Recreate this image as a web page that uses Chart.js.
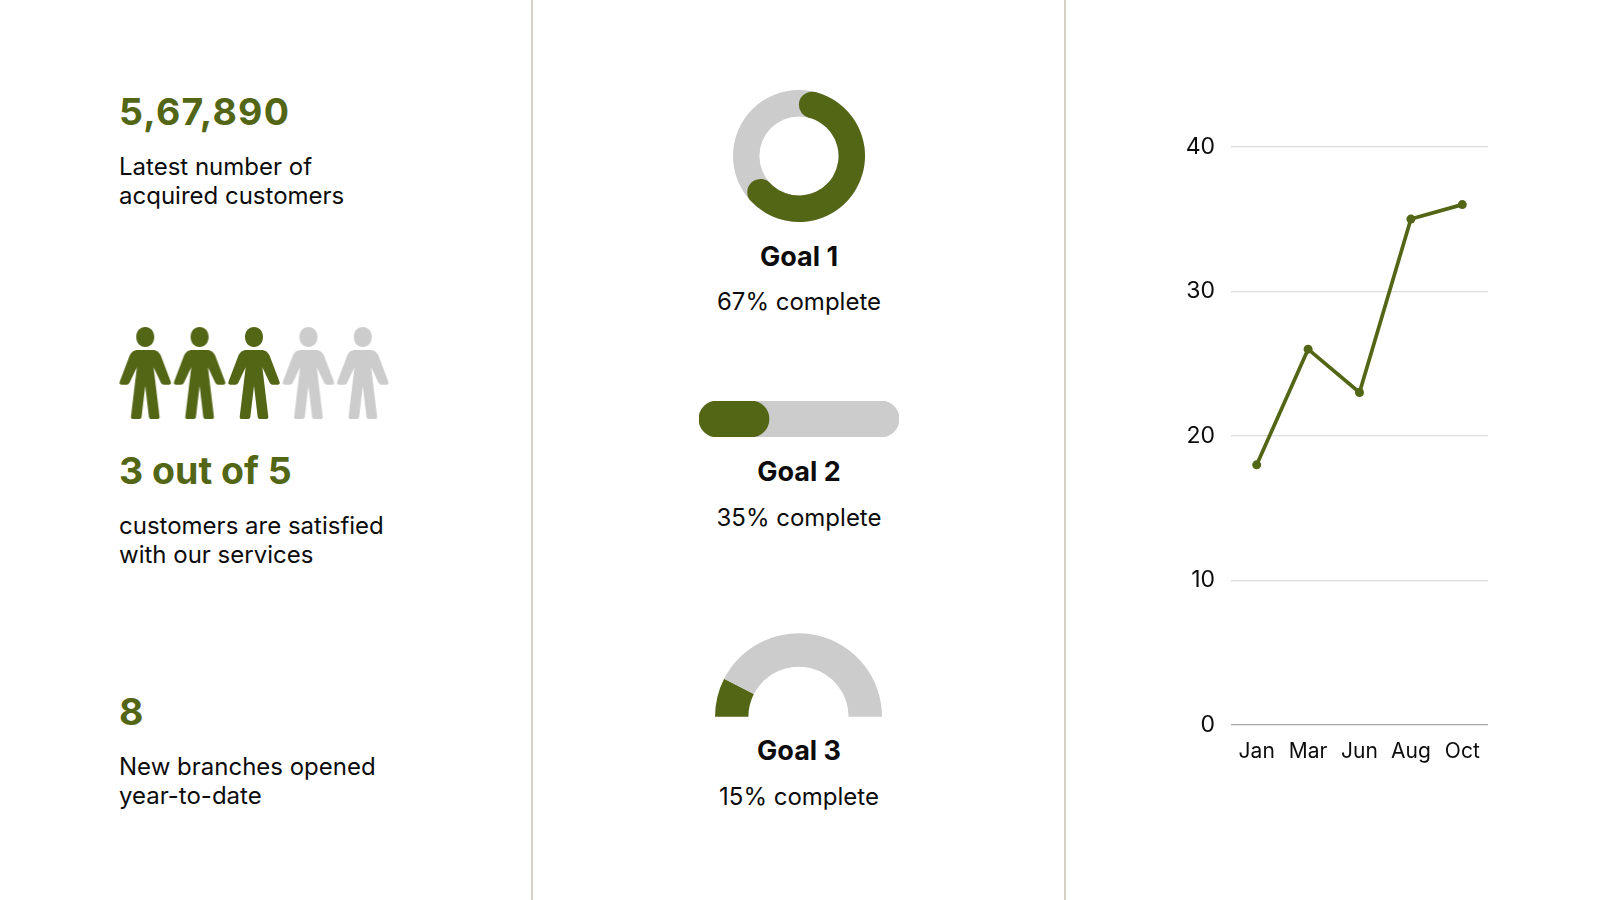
<!DOCTYPE html>
<html lang="en">

<head>
    <meta charset="UTF-8">
    <title>Customer Goals</title>
    <style>
        body {
            font-family: Inter, Arial, sans-serif;
            background-color: #fff;
            color: #0c0c0c;
            margin: 0;
            width: 1600px;
            height: 900px;
            overflow: hidden;
            position: relative;
        }

        .divider { position: absolute; top: 0; width: 2px; height: 900px; background: #d6d2c4; }

        .stat, .txt, .goal, .pct { position: absolute; white-space: nowrap; }
        .stat { left: 119px; font-size: 37.5px; font-weight: 700; line-height: 46px; color: #536616; }
        .txt { left: 119px; font-size: 24px; line-height: 29px; }
        .goal { left: 599px; width: 400px; text-align: center; font-size: 27px; font-weight: 700; line-height: 34px; }
        .pct { left: 599px; width: 400px; text-align: center; font-size: 24px; line-height: 30px; }

        canvas { position: absolute; }
    </style>
</head>

<body>
    <div class="divider" style="left:531px"></div>
    <div class="divider" style="left:1064px"></div>

    <div class="stat" style="top:89px;letter-spacing:1.2px">5,67,890</div>
    <div class="txt" style="top:152px">Latest number of<br>acquired customers</div>
    <canvas id="peopleChart" style="left:118px;top:327px"></canvas>
    <div class="stat" style="top:448px">3 out of 5</div>
    <div class="txt" style="top:511px">customers are satisfied<br>with our services</div>
    <div class="stat" style="top:689px">8</div>
    <div class="txt" style="top:752px">New branches opened<br>year-to-date</div>

    <canvas id="goal1Back" style="left:733px;top:90px"></canvas>
    <canvas id="goal1Chart" style="left:733px;top:90px"></canvas>
    <div class="goal" style="top:240px">Goal 1</div>
    <div class="pct" style="top:287px">67% complete</div>

    <canvas id="goal2Chart" style="left:699px;top:401px"></canvas>
    <div class="goal" style="top:455px">Goal 2</div>
    <div class="pct" style="top:503px">35% complete</div>

    <canvas id="goal3Chart" style="left:715px;top:633px"></canvas>
    <div class="goal" style="top:734px">Goal 3</div>
    <div class="pct" style="top:782px">15% complete</div>

    <canvas id="lineChart" style="left:1160px;top:117px"></canvas>

    <script src="https://cdn.jsdelivr.net/npm/chart.js"></script>
    <script>
        const GREEN = '#536616';
        const GREY = '#cccccc';

        const people = [1, 2, 3, 4, 5];
        const peopleSatisfied = [true, true, true, false, false];
        const goal1 = [67, 33];
        const goal2 = [35];
        const goal2Total = [100];
        const goal3 = [15, 85];
        const months = ['Jan', 'Mar', 'Jun', 'Aug', 'Oct'];
        const lineValues = [18, 26, 23, 35, 36];
        const yTicks = [0, 10, 20, 30, 40];

        Chart.defaults.animation = false;
        Chart.defaults.responsive = false;
        Chart.defaults.plugins.legend.display = false;
        Chart.defaults.plugins.tooltip.enabled = false;
        Chart.defaults.font.family = 'Inter, Arial, sans-serif';

        function sizeCanvas(id, w, h) {
            const c = document.getElementById(id);
            c.width = w;
            c.height = h;
            return c;
        }

        // person icon, used as point style of the pictogram
        const personPath = new Path2D('M136 82C120 82 109 95 109 112C109 129 120 142 136 142C152 142 163 129 163 112C163 95 152 82 136 82Z' +
            'M114 151C101 151 94 158 89 168L60 245C57 252 60 255 65 255L80 255C84 255 87 253 89 249L111 203L93 352C93 356 95 358 99 358L118 358C122 358 124 356 125 352L136 258L147 352C148 356 150 358 154 358L173 358C177 358 179 356 179 352L161 203L183 249C185 253 188 255 192 255L207 255C212 255 215 252 212 245L183 168C178 158 171 151 158 151Z');

        function personIcon(color) {
            const c = document.createElement('canvas');
            c.width = 54;
            c.height = 92;
            const ctx = c.getContext('2d');
            ctx.translate(27, -27.3);
            ctx.scale(1 / 3, 1 / 3);
            ctx.translate(-136, 0);
            ctx.fillStyle = color;
            ctx.fill(personPath);
            return c;
        }
        const iconOn = personIcon(GREEN);
        const iconOff = personIcon(GREY);

        new Chart(sizeCanvas('peopleChart', 272, 92), {
            type: 'scatter',
            data: {
                datasets: [{
                    data: people.map(p => ({ x: p, y: 1 })),
                    pointStyle: peopleSatisfied.map(s => s ? iconOn : iconOff),
                    clip: false
                }]
            },
            options: {
                layout: { padding: 0, autoPadding: false },
                scales: {
                    x: { display: false, min: 0.5, max: 5.5 },
                    y: { display: false, min: 0, max: 2 }
                }
            }
        });

        // goal 1: full grey ring with the rounded green arc on top
        new Chart(sizeCanvas('goal1Back', 132, 132), {
            type: 'doughnut',
            data: { datasets: [{ data: [goal1[0] + goal1[1]], backgroundColor: [GREY], borderWidth: 0 }] },
            options: { cutout: '60%' }
        });
        new Chart(sizeCanvas('goal1Chart', 132, 132), {
            type: 'doughnut',
            data: {
                datasets: [{
                    data: goal1,
                    backgroundColor: [GREEN, 'rgba(0,0,0,0)'],
                    borderWidth: 0,
                    borderRadius: 14
                }]
            },
            options: { cutout: '60%' }
        });

        // goal 2: progress bar
        new Chart(sizeCanvas('goal2Chart', 200, 36), {
            type: 'bar',
            data: {
                labels: ['Goal 2'],
                datasets: [
                    { data: goal2, backgroundColor: GREEN, order: 1 },
                    { data: goal2Total, backgroundColor: GREY, order: 2 }
                ]
            },
            options: {
                indexAxis: 'y',
                datasets: {
                    bar: { grouped: false, barThickness: 36, borderRadius: 18, borderSkipped: false }
                },
                scales: {
                    x: { display: false, min: 0, max: 100 },
                    y: { display: false }
                }
            }
        });

        // goal 3: half ring gauge
        new Chart(sizeCanvas('goal3Chart', 167, 84), {
            type: 'doughnut',
            data: {
                datasets: [{ data: goal3, backgroundColor: [GREEN, GREY], borderWidth: 0 }]
            },
            options: { rotation: -90, circumference: 180, cutout: '60%' }
        });

        new Chart(sizeCanvas('lineChart', 328, 658), {
            type: 'line',
            data: {
                labels: months,
                datasets: [{
                    data: lineValues,
                    borderColor: GREEN,
                    backgroundColor: GREEN,
                    borderWidth: 3.7,
                    pointRadius: 4.5,
                    pointBorderWidth: 0,
                    tension: 0
                }]
            },
            options: {
                layout: { padding: { top: 23 }, autoPadding: false },
                scales: {
                    x: {
                        offset: true,
                        afterFit: s => { s.height = 50; },
                        grid: { display: false },
                        border: { display: false },
                        ticks: { color: '#0c0c0c', font: { size: 21 }, padding: 6, maxRotation: 0, autoSkip: false }
                    },
                    y: {
                        min: 0,
                        max: 40,
                        afterFit: s => { s.width = 71; },
                        afterBuildTicks: s => { s.ticks = yTicks.map(v => ({ value: v })); },
                        grid: {
                            drawTicks: false,
                            lineWidth: 1.3,
                            color: c => c.tick.value === 0 ? '#a8a8a8' : '#dcdcdc'
                        },
                        border: { display: false },
                        ticks: { color: '#0c0c0c', font: { size: 23 }, padding: 16 }
                    }
                }
            }
        });
    </script>
</body>

</html>
